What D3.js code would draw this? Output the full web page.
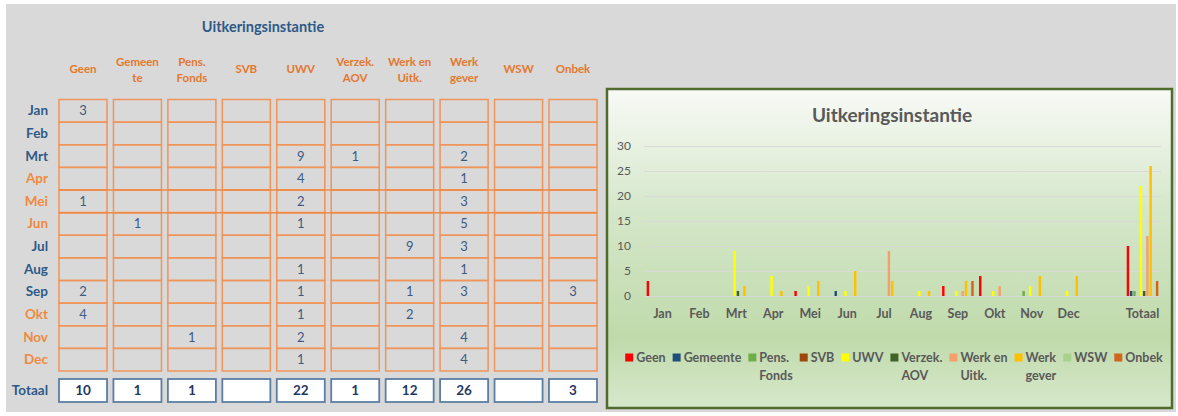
<!DOCTYPE html>
<html lang="nl">
<head>
<meta charset="UTF-8">
<title>Uitkeringsinstantie</title>
<script src="https://d3js.org/d3.v7.min.js"></script>
<style>
  body { margin: 0; background: #ffffff; font-family: Lato, "DejaVu Sans", sans-serif; }
  svg { display: block; }
</style>
</head>
<body>
<div id="vis"></div>
<script>
// months and instances
var months = ["Jan", "Feb", "Mrt", "Apr", "Mei", "Jun", "Jul", "Aug", "Sep", "Okt", "Nov", "Dec"];
var series = ["Geen", "Gemeente", "Pens. Fonds", "SVB", "UWV", "Verzek. AOV", "Werk en Uitk.", "Werk gever", "WSW", "Onbek"];
var headerLines = [["Geen"], ["Gemeen", "te"], ["Pens.", "Fonds"], ["SVB"], ["UWV"], ["Verzek.", "AOV"], ["Werk en", "Uitk."], ["Werk", "gever"], ["WSW"], ["Onbek"]];
var legendLines = [["Geen"], ["Gemeente"], ["Pens.", "Fonds"], ["SVB"], ["UWV"], ["Verzek.", "AOV"], ["Werk en", "Uitk."], ["Werk", "gever"], ["WSW"], ["Onbek"]];
var chartCats = months.concat(["", "Totaal"]);
var yTicks = [0, 5, 10, 15, 20, 25, 30];

// monthly values per instance (null = empty cell)
var geen       = [3, null, null, null, 1, null, null, null, 2, 4, null, null];
var gemeente   = [null, null, null, null, null, 1, null, null, null, null, null, null];
var pensFonds  = [null, null, null, null, null, null, null, null, null, null, 1, null];
var svb        = [null, null, null, null, null, null, null, null, null, null, null, null];
var uwv        = [null, null, 9, 4, 2, 1, null, 1, 1, 1, 2, 1];
var verzekAov  = [null, null, 1, null, null, null, null, null, null, null, null, null];
var werkEnUitk = [null, null, null, null, null, null, 9, null, 1, 2, null, null];
var werkGever  = [null, null, 2, 1, 3, 5, 3, 1, 3, null, 4, 4];
var wsw        = [null, null, null, null, null, null, null, null, null, null, null, null];
var onbek      = [null, null, null, null, null, null, null, null, 3, null, null, null];
var totals     = [10, 1, 1, null, 22, 1, 12, 26, null, 3];

var monthly = [geen, gemeente, pensFonds, svb, uwv, verzekAov, werkEnUitk, werkGever, wsw, onbek];
var colors = ["#ff0000", "#1f4e79", "#70ad47", "#9e480e", "#ffff00", "#3f6426", "#f4a06a", "#ffc000", "#a9d18e", "#d0651b"];

var blue = "#2e5a88", orange = "#ef8a3e", grey = "#595959";

var svg = d3.select("#vis").append("svg")
    .attr("width", 1178)
    .attr("height", 416);

svg.append("rect")
    .attr("x", 6).attr("y", 4)
    .attr("width", 1170).attr("height", 408)
    .attr("fill", "#d9d9d9");

// ---------- table ----------
var col = d3.scaleBand().domain(series).range([59, 597]).paddingInner(0.118);
var row = d3.scaleBand().domain(months).range([99.5, 371]);
var tbl = svg.append("g");

tbl.append("text")
    .attr("x", 263).attr("y", 32)
    .attr("text-anchor", "middle")
    .style("font-size", "14.5px").style("font-weight", "bold")
    .attr("fill", blue)
    .text("Uitkeringsinstantie");

// column headers
series.forEach(function(s, i) {
  var lines = headerLines[i];
  var t = tbl.append("text")
      .attr("x", col(s) + col.bandwidth() / 2)
      .attr("text-anchor", "middle")
      .style("font-size", "11.5px").style("font-weight", "bold")
      .attr("fill", "#e3782f");
  var y0 = lines.length == 1 ? 73 : 66;
  lines.forEach(function(l, j) {
    t.append("tspan").attr("x", col(s) + col.bandwidth() / 2).attr("y", y0 + j * 16).text(l);
  });
});

// cells
var cells = [];
series.forEach(function(s, i) {
  months.forEach(function(m, j) {
    cells.push({s: s, m: m, v: monthly[i][j]});
  });
});

tbl.selectAll(".cell").data(cells).enter().append("rect")
    .attr("class", "cell")
    .attr("x", function(d) { return col(d.s); })
    .attr("y", function(d) { return row(d.m); })
    .attr("width", col.bandwidth())
    .attr("height", row.bandwidth())
    .attr("fill", "none")
    .attr("stroke", "#f0945a")
    .attr("stroke-width", 1.5);

// the two lines that run across the whole block
["Mei", "Jun"].forEach(function(m) {
  tbl.append("line")
      .attr("x1", col(series[0])).attr("x2", col(series[9]) + col.bandwidth())
      .attr("y1", row(m)).attr("y2", row(m))
      .attr("stroke", "#f08a45").attr("stroke-width", 1.5);
});

tbl.selectAll(".val").data(cells.filter(function(d) { return d.v != null; })).enter().append("text")
    .attr("class", "val")
    .attr("x", function(d) { return col(d.s) + col.bandwidth() / 2; })
    .attr("y", function(d) { return row(d.m) + row.bandwidth() / 2 + 4.5; })
    .attr("text-anchor", "middle")
    .style("font-size", "13px")
    .attr("fill", "#3d5a80")
    .text(function(d) { return d.v; });

// row labels
tbl.selectAll(".rl").data(months).enter().append("text")
    .attr("class", "rl")
    .attr("x", 48)
    .attr("y", function(d) { return row(d) + row.bandwidth() / 2 + 4.5; })
    .attr("text-anchor", "end")
    .style("font-size", "13.5px").style("font-weight", "bold")
    .attr("fill", function(d, i) { return Math.floor(i / 3) % 2 == 0 ? blue : orange; })
    .text(function(d) { return d; });

// totals row
tbl.append("text")
    .attr("x", 48).attr("y", 395)
    .attr("text-anchor", "end")
    .style("font-size", "13.5px").style("font-weight", "bold")
    .attr("fill", blue)
    .text("Totaal");

tbl.selectAll(".tot").data(series).enter().append("rect")
    .attr("class", "tot")
    .attr("x", function(d) { return col(d); })
    .attr("y", 379)
    .attr("width", col.bandwidth())
    .attr("height", 23)
    .attr("fill", "#ffffff")
    .attr("stroke", "#5b7ea4")
    .attr("stroke-width", 1.8);

tbl.selectAll(".totv").data(series).enter().append("text")
    .attr("class", "totv")
    .attr("x", function(d) { return col(d) + col.bandwidth() / 2; })
    .attr("y", 395)
    .attr("text-anchor", "middle")
    .style("font-size", "13.5px").style("font-weight", "bold")
    .attr("fill", "#1f3864")
    .text(function(d, i) { return totals[i] == null ? "" : totals[i]; });

// ---------- chart ----------
var defs = svg.append("defs");
var grad = defs.append("linearGradient").attr("id", "bg").attr("x1", 0).attr("y1", 0).attr("x2", 0).attr("y2", 1);
grad.append("stop").attr("offset", "0%").attr("stop-color", "#f8faf6");
grad.append("stop").attr("offset", "38%").attr("stop-color", "#d5e7ca");
grad.append("stop").attr("offset", "78%").attr("stop-color", "#c0daab");
grad.append("stop").attr("offset", "100%").attr("stop-color", "#d6e8cb");

var ch = svg.append("g");
ch.append("rect")
    .attr("x", 607).attr("y", 89)
    .attr("width", 565).attr("height", 319)
    .attr("fill", "url(#bg)")
    .attr("stroke", "#4f6b2f")
    .attr("stroke-width", 2.5);

ch.append("text")
    .attr("x", 892).attr("y", 122)
    .attr("text-anchor", "middle")
    .style("font-size", "19px").style("font-weight", "bold")
    .attr("fill", grey)
    .text("Uitkeringsinstantie");

var x0 = d3.scaleBand().domain(chartCats).range([644, 1161]).paddingInner(0.1).paddingOuter(0.05);
var x1 = d3.scaleBand().domain(series).range([0, x0.bandwidth()]).padding(0.25);
var y = d3.scaleLinear().domain([0, 30]).range([296, 146]);

var yAxis = ch.append("g")
    .attr("transform", "translate(644,0)")
    .call(d3.axisLeft(y).tickValues(yTicks).tickSize(-(1161 - 644)).tickPadding(13));
yAxis.select(".domain").remove();
yAxis.selectAll("line").attr("stroke", "#d9d9d9").attr("stroke-width", 1.2);
yAxis.selectAll("text").attr("fill", grey).style("font-size", "12px").style("font-family", "Lato");

var bars = [];
chartCats.forEach(function(c, i) {
  series.forEach(function(s, k) {
    var v = i < 12 ? monthly[k][i] : (c == "Totaal" ? totals[k] : null);
    if (v != null) bars.push({c: c, s: s, v: v, color: colors[k]});
  });
});

ch.append("g").selectAll("rect").data(bars).enter().append("rect")
    .attr("x", function(d) { return x0(d.c) + x1(d.s); })
    .attr("y", function(d) { return y(d.v); })
    .attr("width", x1.bandwidth())
    .attr("height", function(d) { return y(0) - y(d.v); })
    .attr("fill", function(d) { return d.color; });

var xAxis = ch.append("g")
    .attr("transform", "translate(0,296)")
    .call(d3.axisBottom(x0).tickSize(0).tickPadding(13));
xAxis.select(".domain").remove();
xAxis.selectAll("text").attr("fill", grey).style("font-size", "12.5px").style("font-weight", "bold").style("font-family", "Lato");

// legend, laid out left to right and centred in the chart box
var leg = ch.append("g");
var lx = 0;
series.forEach(function(s, i) {
  var item = leg.append("g").attr("transform", "translate(" + lx + ",0)");
  item.append("rect").attr("x", 0).attr("y", 353.5).attr("width", 8).attr("height", 8).attr("fill", colors[i]);
  var t = item.append("text")
      .style("font-size", "12.5px").style("font-weight", "bold")
      .attr("fill", grey);
  legendLines[i].forEach(function(l, j) {
    t.append("tspan").attr("x", 11).attr("y", 362 + j * 17.5).text(l);
  });
  var w = 0;
  t.selectAll("tspan").each(function() { w = Math.max(w, this.getComputedTextLength()); });
  lx += 11 + w + 7;
});
lx -= 7;
leg.attr("transform", "translate(" + (894 - lx / 2) + ",0)");
</script>
</body>
</html>
